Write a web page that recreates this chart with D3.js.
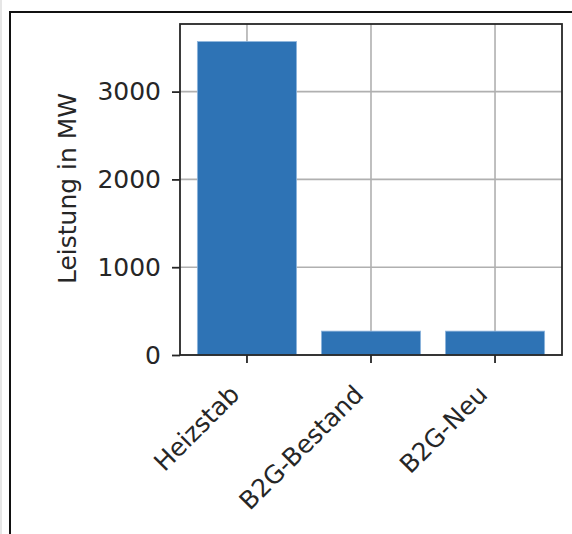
<!DOCTYPE html>
<html>
<head>
<meta charset="utf-8">
<script src="https://cdn.jsdelivr.net/npm/d3@7"></script>
<style>
  html, body { margin: 0; padding: 0; background: #fff; }
  svg { display: block; }
  text { font-family: "DejaVu Sans", sans-serif; fill: #262626; }
</style>
</head>
<body>
<svg id="chart" width="572" height="534"></svg>
<script>
const categories = ["Heizstab", "B2G-Bestand", "B2G-Neu"];
const values = [3570, 272, 272];
const yTicks = [0, 1000, 2000, 3000];
const yLabel = "Leistung in MW";

const svg = d3.select("#chart");

// outer frame
svg.append("rect").attr("x", 0).attr("y", 0).attr("width", 2).attr("height", 534).attr("fill", "#e6e6e6");
svg.append("path").attr("d", "M10,534 L10,12 L572,12").attr("fill", "none").attr("stroke", "#111").attr("stroke-width", 2);

const L = 180, R = 562, T = 24, B = 355;

const x = d3.scaleBand().domain(categories).range([L, R]).paddingInner(0.2).paddingOuter(0.14);
const y = d3.scaleLinear().domain([0, 3770]).range([B, T]);

// grid
const grid = svg.append("g");
grid.selectAll("line.h").data(yTicks).join("line")
  .attr("x1", L).attr("x2", R).attr("y1", d => y(d)).attr("y2", d => y(d))
  .attr("stroke", "#b0b0b0").attr("stroke-width", 1.6);
grid.selectAll("line.v").data(categories).join("line")
  .attr("x1", d => x(d) + x.bandwidth() / 2).attr("x2", d => x(d) + x.bandwidth() / 2)
  .attr("y1", T).attr("y2", B)
  .attr("stroke", "#b0b0b0").attr("stroke-width", 1.6);

// bars
svg.append("g").selectAll("rect").data(values).join("rect")
  .attr("x", (d, i) => x(categories[i]))
  .attr("width", x.bandwidth())
  .attr("y", d => y(d))
  .attr("height", d => B - y(d))
  .attr("fill", "#2e73b5")
  .attr("stroke", "#8fb6dd").attr("stroke-width", 0.8);

// spines
svg.append("rect").attr("x", L).attr("y", T).attr("width", R - L).attr("height", B - T)
  .attr("fill", "none").attr("stroke", "#262626").attr("stroke-width", 1.8);

// y axis
const yAxis = d3.axisLeft(y).tickValues(yTicks).tickSize(8).tickPadding(11).tickFormat(d3.format("d"));
const gy = svg.append("g").attr("transform", `translate(${L},0)`).call(yAxis);
gy.select(".domain").remove();
gy.selectAll(".tick line").attr("stroke", "#262626").attr("stroke-width", 1.8);
gy.selectAll(".tick text").attr("font-size", 25).attr("font-family", "DejaVu Sans").attr("fill", "#262626");

// x axis
const xAxis = d3.axisBottom(x).tickSize(8).tickPadding(0);
const gx = svg.append("g").attr("transform", `translate(0,${B})`).call(xAxis);
gx.select(".domain").remove();
gx.selectAll(".tick line").attr("stroke", "#262626").attr("stroke-width", 1.8);
gx.selectAll(".tick text")
  .attr("font-size", 25).attr("font-family", "DejaVu Sans").attr("fill", "#262626")
  .attr("text-anchor", "end")
  .attr("dy", null)
  .attr("y", null)
  .attr("transform", "translate(-6,41) rotate(-45)");

// y label
svg.append("text")
  .attr("transform", `translate(76,${(90 + 287) / 2}) rotate(-90)`)
  .attr("text-anchor", "middle")
  .attr("font-size", 25)
  .text(yLabel);
</script>
</body>
</html>
